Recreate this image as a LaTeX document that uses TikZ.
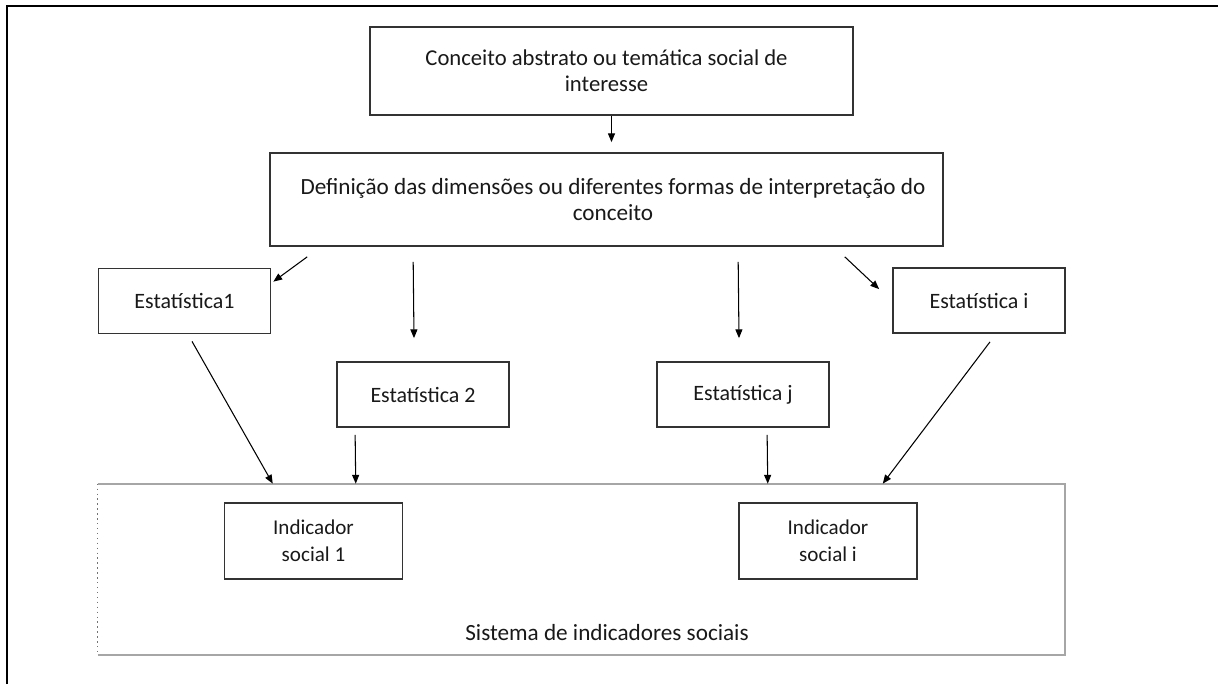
\documentclass[tikz,border=0pt]{standalone}
\usepackage{fontspec}
\setmainfont{Carlito}
\usepackage{xcolor}
\usepackage{tikz}
\usetikzlibrary{
  arrows.meta,
  calc
}

\begin{document}
\begin{tikzpicture}[
    x=0.02cm, y=-0.02cm,
    box/.style={
        draw=black!80,
        line width=1pt,
        rectangle,
        align=center,
        text=black!90,
        inner sep=2pt
    },
    statbox/.style={
        box,
        font=\fontsize{12.5}{14.8}\selectfont,
        minimum width=3.44cm,
        minimum height=1.3cm
    },
    indbox/.style={
        box,
        font=\fontsize{12}{15.4}\selectfont,
        minimum width=3.56cm,
        minimum height=1.52cm
    },
    arrow/.style={-{Triangle[length=5pt,width=4pt]}, line width=0.6pt}
]

\useasboundingbox (0,0) rectangle (1218,684);

% ----------------------------------------------------------
% FRAME
% ----------------------------------------------------------

\draw[line width=1.1pt] (7,684) -- (7,6) -- (1218,6);

% ----------------------------------------------------------
% NODES
% ----------------------------------------------------------

\node[box, font=\fontsize{12.9}{14.8}\selectfont,
      minimum width=9.66cm, minimum height=1.76cm] (concept) at (611.5,71)
    {\hspace*{-0.2cm}Conceito abstrato ou temática social de\\\hspace*{-0.2cm}interesse};
\node[box, font=\fontsize{13.2}{14.8}\selectfont,
      minimum width=13.46cm, minimum height=1.86cm] (dimensions) at (606.5,199.5)
    {\hspace*{0.26cm}Definição das dimensões ou diferentes formas de interpretação do\\\hspace*{0.26cm}conceito};

\node[statbox] (stat1) at (184.5,301) {Estatística1};
\node[statbox] (stat2) at (423,394.5) {Estatística 2};
\node[statbox] (statj) at (743,394.5) {Estatística j};
\node[statbox] (stati) at (979,300.5) {Estatística i};

\node[minimum width=19.34cm, minimum height=3.42cm, inner sep=0pt] (system) at (581.5,569.5) {};
\draw[black!35, line width=1pt] (system.south west) -- (system.south east)
    -- (system.north east) -- (system.north west);
\draw[black!55, dotted, line width=0.8pt] (system.north west) -- (system.south west);
\node[text=black!90, font=\fontsize{13.2}{14.8}\selectfont] (systemlabel)
    at ($(system.south)+(25.5,-23)$) {Sistema de indicadores sociais};

\node[indbox] (ind1) at (313.5,541) {Indicador\\social 1};
\node[indbox] (indi) at (828,541) {Indicador\\social i};

% ----------------------------------------------------------
% ARROWS
% ----------------------------------------------------------

\draw[arrow, shorten >=0.2cm] (concept.south) -- (concept.south |- dimensions.north);

\draw[arrow] ([shift={(38,10)}]dimensions.south west) -- ([shift={(2,14)}]stat1.north east);
\draw[arrow] ([shift={(144,15)}]dimensions.south west) -- ([shift={(-9,-23)}]stat2.north);
\draw[arrow] ([shift={(469,15)}]dimensions.south west) -- ([shift={(-4,-23)}]statj.north);
\draw[arrow] ([shift={(-99,10)}]dimensions.south east) -- ([shift={(-13,22)}]stati.north west);

\draw[arrow] ([shift={(7.5,7)}]stat1.south) -- ([shift={(175,0)}]system.north west);
\draw[arrow] ([shift={(19,7)}]stat2.south west) -- ([shift={(258,0)}]system.north west);
\draw[arrow] ([shift={(111,7)}]statj.south west) -- ([shift={(670,0)}]system.north west);
\draw[arrow] ([shift={(11,8)}]stati.south) -- ([shift={(785,0)}]system.north west);

\end{tikzpicture}
\end{document}
